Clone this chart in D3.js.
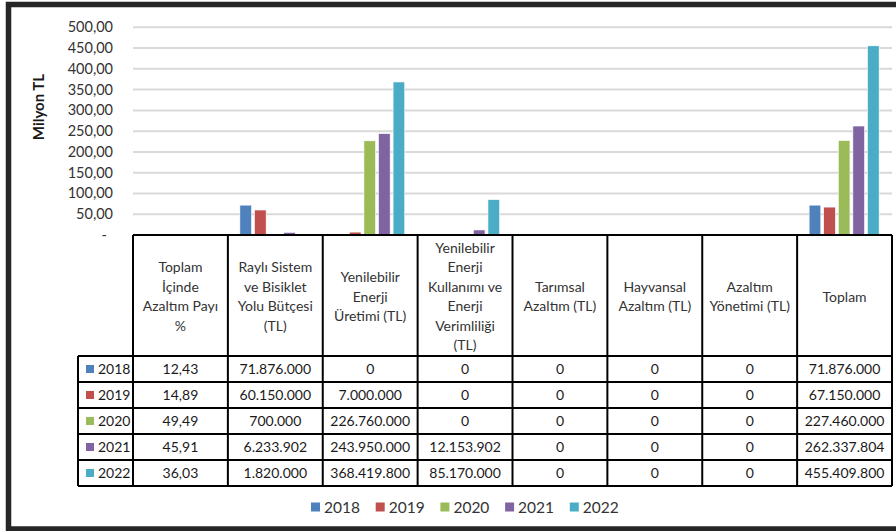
<!DOCTYPE html>
<html>
<head>
<meta charset="utf-8">
<script src="https://cdn.jsdelivr.net/npm/d3@7"></script>
<style>
  body { margin: 0; background: #fff; }
  svg { display: block; font-family: Lato, "Open Sans", sans-serif; }
</style>
</head>
<body>
<div id="chart"></div>
<script>
// Data
var years = ["2018", "2019", "2020", "2021", "2022"];
var colors = ["#4F81BD", "#C0504D", "#9BBB59", "#8064A2", "#4BACC6"];
var headers = [
  ["Toplam", "İçinde", "Azaltım Payı", "%"],
  ["Raylı Sistem", "ve Bisiklet", "Yolu Bütçesi", "(TL)"],
  ["Yenilebilir", "Enerji", "Üretimi (TL)"],
  ["Yenilebilir", "Enerji", "Kullanımı ve", "Enerji", "Verimliliği", "(TL)"],
  ["Tarımsal", "Azaltım (TL)"],
  ["Hayvansal", "Azaltım (TL)"],
  ["Azaltım", "Yönetimi (TL)"],
  ["Toplam"]
];
var v2018 = [12.43, 71876000, 0, 0, 0, 0, 0, 71876000];
var v2019 = [14.89, 60150000, 7000000, 0, 0, 0, 0, 67150000];
var v2020 = [49.49, 700000, 226760000, 0, 0, 0, 0, 227460000];
var v2021 = [45.91, 6233902, 243950000, 12153902, 0, 0, 0, 262337804];
var v2022 = [36.03, 1820000, 368419800, 85170000, 0, 0, 0, 455409800];
var yTicks = [0, 50, 100, 150, 200, 250, 300, 350, 400, 450, 500];

var rows = [v2018, v2019, v2020, v2021, v2022];
var cats = headers.map(function (h, i) { return "c" + i; });

var W = 896, H = 531;
var svg = d3.select("#chart").append("svg")
    .attr("width", W)
    .attr("height", H);

// Turkish number formats
var tr = d3.formatLocale({ decimal: ",", thousands: ".", grouping: [3], currency: ["", " TL"] });
var fmtPct = tr.format(",.2f");
var fmtInt = tr.format(",d");

// Scales
var plotLeft = 133, plotRight = 892, plotTop = 27.3, base = 235;
var x0 = d3.scaleBand().domain(cats).range([plotLeft, plotRight]);
var x1 = d3.scaleBand().domain(years).range([12, 82]).paddingInner(0.2);
var y = d3.scaleLinear().domain([0, 500]).range([base, plotTop]);

// Gridlines
svg.append("g").selectAll("line")
    .data(yTicks.slice(1))
    .enter().append("line")
    .attr("x1", plotLeft).attr("x2", plotRight)
    .attr("y1", function (d) { return y(d); })
    .attr("y2", function (d) { return y(d); })
    .attr("stroke", "#d9d9d9")
    .attr("stroke-width", 2);

// Y tick labels
svg.append("g").selectAll("text")
    .data(yTicks)
    .enter().append("text")
    .attr("x", function (d) { return d === 0 ? 107 : 113; })
    .attr("y", function (d) { return y(d) + 5; })
    .attr("text-anchor", "end")
    .attr("font-size", 14.5)
    .attr("fill", "#333")
    .text(function (d) { return d === 0 ? "-" : fmtPct(d); });

// Axis title
svg.append("text")
    .attr("transform", "translate(44,107) rotate(-90)")
    .attr("text-anchor", "middle")
    .attr("font-size", 15)
    .attr("font-weight", "bold")
    .attr("fill", "#1a1a1a")
    .text("Milyon TL");

// Bars (values in Milyon TL)
var barData = [];
rows.forEach(function (r, yi) {
  r.forEach(function (v, ci) {
    barData.push({ cat: cats[ci], year: years[yi], color: colors[yi], value: v / 1e6 });
  });
});
svg.append("g").selectAll("rect")
    .data(barData)
    .enter().append("rect")
    .attr("x", function (d) { return x0(d.cat) + x1(d.year); })
    .attr("width", x1.bandwidth())
    .attr("y", function (d) { return y(d.value); })
    .attr("height", function (d) { return base - y(d.value); })
    .attr("fill", function (d) { return d.color; })
    .attr("stroke", "#fff")
    .attr("stroke-width", 0.6);

// Table
var headBottom = 356, rowH = 26, labelLeft = 78;
var tbl = svg.append("g");
var tableBottom = headBottom + rowH * rows.length;

// header text
headers.forEach(function (lines, ci) {
  var cx = x0(cats[ci]) + x0.bandwidth() / 2;
  var lh = 19.4;
  var cy = (base + headBottom) / 2 + 1;
  lines.forEach(function (t, li) {
    tbl.append("text")
      .attr("x", cx)
      .attr("y", cy + (li - (lines.length - 1) / 2) * lh + 5)
      .attr("text-anchor", "middle")
      .attr("font-size", 14)
      .attr("fill", "#333")
      .text(t);
  });
});

// data rows
rows.forEach(function (r, ri) {
  var ry = headBottom + ri * rowH;
  tbl.append("rect")
    .attr("x", labelLeft + 8).attr("y", ry + rowH / 2 - 4)
    .attr("width", 8).attr("height", 8)
    .attr("fill", colors[ri]);
  tbl.append("text")
    .attr("x", labelLeft + 20).attr("y", ry + rowH / 2 + 5)
    .attr("font-size", 14).attr("fill", "#1a1a1a")
    .text(years[ri]);
  r.forEach(function (v, ci) {
    tbl.append("text")
      .attr("x", x0(cats[ci]) + x0.bandwidth() / 2)
      .attr("y", ry + rowH / 2 + 5)
      .attr("text-anchor", "middle")
      .attr("font-size", 14).attr("fill", "#1a1a1a")
      .text(ci === 0 ? fmtPct(v) : fmtInt(v));
  });
});

// table lines
var lineAttr = function (sel) {
  return sel.attr("stroke", "#000").attr("stroke-width", 2).attr("fill", "none");
};
lineAttr(tbl.append("line").attr("x1", plotLeft).attr("x2", plotRight).attr("y1", base).attr("y2", base));
d3.range(rows.length + 1).forEach(function (i) {
  var yy = headBottom + i * rowH;
  lineAttr(tbl.append("line").attr("x1", labelLeft).attr("x2", plotRight).attr("y1", yy).attr("y2", yy));
});
lineAttr(tbl.append("line").attr("x1", labelLeft).attr("x2", labelLeft).attr("y1", headBottom).attr("y2", tableBottom));
cats.forEach(function (c) {
  lineAttr(tbl.append("line").attr("x1", x0(c)).attr("x2", x0(c)).attr("y1", base).attr("y2", tableBottom));
});
lineAttr(tbl.append("line").attr("x1", plotRight).attr("x2", plotRight).attr("y1", base).attr("y2", tableBottom));

// Legend
var legend = svg.append("g").selectAll("g")
    .data(years)
    .enter().append("g")
    .attr("transform", function (d, i) { return "translate(" + (311 + i * 64.7) + ",507)"; });
legend.append("rect")
    .attr("x", 0).attr("y", -4.5)
    .attr("width", 9).attr("height", 9)
    .attr("fill", function (d, i) { return colors[i]; });
legend.append("text")
    .attr("x", 13).attr("y", 5.5)
    .attr("font-size", 15.5).attr("fill", "#333")
    .text(function (d) { return d; });

// Outer frame
svg.append("rect")
    .attr("x", 8.5).attr("y", 4.5)
    .attr("width", 892).attr("height", 524.5)
    .attr("fill", "none")
    .attr("stroke", "#262626")
    .attr("stroke-width", 5.5);
</script>
</body>
</html>
